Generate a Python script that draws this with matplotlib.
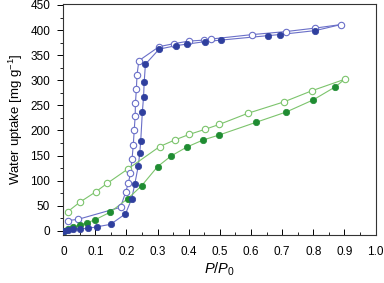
import matplotlib
matplotlib.use("Agg")
import matplotlib.pyplot as plt
from matplotlib.ticker import MultipleLocator

plt.rcParams['font.family'] = ['Liberation Sans', 'DejaVu Sans']
plt.rcParams['mathtext.fontset'] = 'custom'
plt.rcParams['mathtext.rm'] = 'Liberation Sans'
plt.rcParams['mathtext.it'] = 'Liberation Sans:italic'
plt.rcParams['mathtext.bf'] = 'Liberation Sans:bold'

# Blue: adsorption (filled) and desorption (open)
blue_ads_x = [0.0, 0.013, 0.027, 0.05, 0.077, 0.104, 0.149, 0.197, 0.217, 0.227, 0.238,
              0.243, 0.246, 0.251, 0.255, 0.257, 0.261, 0.305, 0.359, 0.394, 0.453,
              0.503, 0.656, 0.692, 0.807]
blue_ads_y = [0, 2, 3, 4, 5, 8, 13, 34, 64, 94, 129, 156, 180, 236, 267, 296, 332,
              362, 369, 372, 377, 380, 389, 391, 399]
blue_des_x = [0.889, 0.807, 0.712, 0.604, 0.470, 0.449, 0.400, 0.353, 0.305, 0.240,
              0.234, 0.232, 0.229, 0.228, 0.225, 0.222, 0.218, 0.213, 0.206, 0.198,
              0.181, 0.045, 0.011]
blue_des_y = [411, 404, 397, 391, 382, 380, 378, 373, 367, 339, 311, 283, 255, 228,
              200, 171, 143, 115, 95, 78, 47, 23, 20.5]

# Green: adsorption (filled) and desorption (open)
green_ads_x = [0.0, 0.011, 0.027, 0.05, 0.072, 0.099, 0.147, 0.204, 0.249, 0.300, 0.343,
               0.394, 0.446, 0.498, 0.615, 0.714, 0.800, 0.871]
green_ads_y = [0, 3, 7, 12, 16, 22, 37, 64, 90, 128, 149, 167, 181, 191, 216, 237, 261, 287]
green_des_x = [0.901, 0.795, 0.706, 0.589, 0.498, 0.451, 0.401, 0.355, 0.307, 0.204,
               0.139, 0.102, 0.05, 0.011]
green_des_y = [302, 279, 257, 234, 212, 202, 192, 181, 168, 123, 95, 78, 57, 38]

fig = plt.figure(figsize=(3.84, 2.83), dpi=100)
ax = fig.add_axes([0.163, 0.170, 0.815, 0.816])

blue_dark = '#2f3f9e'
blue_line = '#6a6fc8'
green_dark = '#1f8c32'
green_line = '#7cc46c'
ms = 4.6

# lines (adsorption joins top desorption point)
ax.plot(blue_ads_x + [blue_des_x[0]], blue_ads_y + [blue_des_y[0]], color=blue_line, lw=0.8, zorder=2)
ax.plot(blue_des_x, blue_des_y, color=blue_line, lw=0.8, zorder=2)
ax.plot(green_ads_x + [green_des_x[0]], green_ads_y + [green_des_y[0]], color=green_line, lw=0.8, zorder=2)
ax.plot(green_des_x, green_des_y, color=green_line, lw=0.8, zorder=2)

ax.plot(green_des_x, green_des_y, 'o', ms=ms, mfc='white', mec=green_line, mew=0.8, zorder=3)
ax.plot(green_ads_x, green_ads_y, 'o', ms=ms, mfc=green_dark, mec=green_dark, mew=0.5, zorder=4)
ax.plot(blue_des_x, blue_des_y, 'o', ms=ms, mfc='white', mec=blue_line, mew=0.8, zorder=3)
ax.plot(blue_ads_x, blue_ads_y, 'o', ms=ms, mfc=blue_dark, mec=blue_dark, mew=0.5, zorder=4)

ax.set_xlim(-0.005, 1.0)
ax.set_ylim(-8, 452)
ax.xaxis.set_minor_locator(MultipleLocator(0.05))
ax.yaxis.set_major_locator(MultipleLocator(50))
ax.yaxis.set_minor_locator(MultipleLocator(25))
ax.set_xticks([0, 0.1, 0.2, 0.3, 0.4, 0.5, 0.6, 0.7, 0.8, 0.9, 1.0])
ax.set_xticklabels(['0', '0.1', '0.2', '0.3', '0.4', '0.5', '0.6', '0.7', '0.8', '0.9', '1.0'])

ax.tick_params(axis='x', which='major', direction='in', length=4, width=0.7, labelsize=8.5, pad=8)
ax.tick_params(axis='x', which='minor', direction='in', length=2.5, width=0.6)
ax.tick_params(axis='y', which='major', direction='out', length=4, width=0.7, labelsize=8.5, pad=5)
ax.tick_params(axis='y', which='minor', direction='out', length=2, width=0.6)
for s in ax.spines.values():
    s.set_linewidth(0.8)
    s.set_color('#333333')

ax.set_xlabel(r'$P$/$P_0$', fontsize=10.5, labelpad=2)
ax.set_ylabel(r'Water uptake [mg g$^{-1}$]', fontsize=9.5, labelpad=4)

fig.savefig('out.png', dpi=100)
